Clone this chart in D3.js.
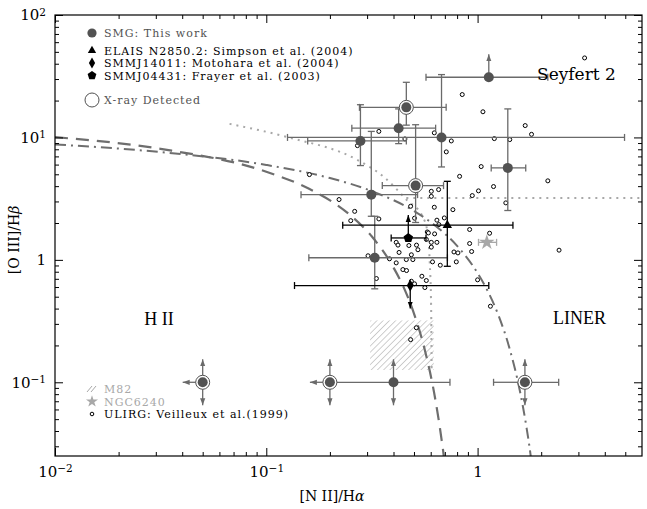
<!DOCTYPE html>
<html>
<head>
<meta charset="utf-8">
<script src="https://cdn.jsdelivr.net/npm/d3@7"></script>
<style>
  body { margin: 0; background: #fff; }
  svg { display: block; font-family: "DejaVu Serif", serif; }
</style>
</head>
<body>
<svg></svg>
<script>
// BPT diagram: [O III]/Hb vs [N II]/Ha

// SMGs from this work (dark grey). ylim/xlim mark limits drawn as arrows
let smgPoints = [
  {x: 1.13, y: 31, xlo: 0.57, xhi: 2.15, ylim: "up"},
  {x: 0.46, y: 17.6, xlo: 0.276, xhi: 0.71, ylo: 12.6, yhi: 28.2, xray: true},
  {x: 0.423, y: 11.9, xlo: 0.254, xhi: 0.633, ylo: 8.9, yhi: 17.1},
  {x: 0.279, y: 9.36, xlo: 0.157, xhi: 0.46, ylo: 5.89, yhi: 18.5},
  {x: 0.675, y: 10.0, xlo: 0.126, xhi: 4.96, ylo: 5.74, yhi: 32.6},
  {x: 1.39, y: 5.64, xlo: 1.16, xhi: 1.69, ylo: 2.53, yhi: 17.1},
  {x: 0.509, y: 4.04, xlo: 0.354, xhi: 0.69, ylo: 2.02, yhi: 12.7, xray: true},
  {x: 0.314, y: 3.41, xlo: 0.146, xhi: 0.52, ylo: 2.27, yhi: 11.2},
  {x: 0.326, y: 1.04, xlo: 0.159, xhi: 0.72, ylo: 0.58, yhi: 2.27},
  {x: 0.05, y: 0.1, xlim: "left", ylim: "both", xray: true},
  {x: 0.2, y: 0.1, xlim: "left", ylim: "both", xray: true},
  {x: 0.40, y: 0.1, xlo: 0.2, xhi: 0.74, ylim: "both"},
  {x: 1.675, y: 0.1, xlo: 1.19, xhi: 2.42, ylim: "both", xray: true}
]

// other SMGs from the literature (black)
let elaisPoint = {x: 0.719, y: 1.92, xlo: 0.23, xhi: 1.47, ylo: 0.886, yhi: 4.38}
let smmj04431Point = {x: 0.47, y: 1.51, xlo: 0.39, xhi: 0.57, ylim: "up"}
let smmj14011Point = {x: 0.48, y: 0.617, xlo: 0.136, xhi: 1.13, ylim: "down"}

// NGC6240 and the M82 region
let ngc6240Point = {x: 1.106, y: 1.39, xlo: 1.01, xhi: 1.23}
let m82Box = {xlo: 0.31, xhi: 0.62, ylo: 0.126, yhi: 0.32}

// ULIRGs, Veilleux et al. (1999)
let ulirgPoints = [
  [0.846, 22.4], [1.06, 16.2], [1.68, 12.5], [1.80, 10.6], [0.341, 11.2], [0.624, 10.9],
  [0.453, 9.72], [0.751, 9.36], [1.20, 9.78], [1.42, 9.60], [0.270, 8.57], [0.711, 7.62],
  [1.04, 5.78], [2.15, 4.42], [0.160, 4.97], [0.822, 4.81], [1.19, 3.97], [1.01, 3.66],
  [0.944, 3.35], [0.604, 3.63], [0.654, 3.75], [0.604, 3.30], [1.36, 2.92], [0.221, 3.11],
  [0.262, 2.49], [0.251, 2.09], [0.482, 2.74], [0.624, 2.69], [0.764, 2.57], [0.341, 2.16],
  [0.503, 2.19], [0.642, 2.11], [0.696, 2.20], [0.656, 1.94], [0.917, 1.77], [1.14, 1.65],
  [0.578, 1.69], [0.585, 1.66], [0.626, 1.63], [0.412, 1.39], [0.420, 1.32], [0.572, 1.47],
  [0.604, 1.39], [0.642, 1.39], [0.473, 1.31], [0.514, 1.32], [0.522, 1.21], [0.604, 1.27],
  [0.917, 1.36], [0.937, 1.17], [2.43, 1.20], [0.425, 1.15], [0.486, 1.10], [0.303, 1.08],
  [0.383, 1.02], [0.460, 1.005], [0.494, 1.005], [0.412, 0.945], [0.612, 0.963], [0.666, 0.904],
  [0.773, 1.16], [0.793, 0.963], [0.807, 1.14], [0.443, 0.833], [0.461, 0.818], [0.332, 0.704],
  [0.545, 0.735], [0.572, 0.678], [0.486, 0.669], [0.503, 0.637], [0.563, 0.594], [1.00, 0.687],
  [1.15, 0.418], [0.513, 0.279], [0.482, 0.223], [3.21, 44.6]
]

// classification curves, values
let kewleyCurve = [
  [0.01, 8.77], [0.0316, 7.59], [0.1, 5.96], [0.2, 4.66], [0.316, 3.64], [0.501, 2.50],
  [0.631, 1.90], [0.794, 1.32], [1.0, 0.780], [1.122, 0.547], [1.259, 0.348], [1.413, 0.192],
  [1.585, 0.0853], [1.698, 0.0445], [1.782, 0.0254], [1.80, 0.022]
]
let kauffmannCurve = [
  [0.01, 10.05], [0.0316, 8.06], [0.1, 5.24], [0.1585, 3.82], [0.251, 2.30], [0.316, 1.55],
  [0.398, 0.879], [0.447, 0.596], [0.501, 0.361], [0.562, 0.185], [0.631, 0.0724],
  [0.676, 0.0337], [0.692, 0.0248], [0.70, 0.02]
]
let dottedCurve = [
  [0.067, 12.9], [0.129, 9.96], [0.268, 6.59], [0.363, 4.70], [0.461, 3.10], [0.549, 2.26],
  [0.580, 1.67], [0.593, 1.0], [0.603, 0.393], [0.606, 0.127]
]
let dottedLine = [[0.46, 3.2], [6, 3.2]]

// axis ticks
let xMajorTicks = [0.01, 0.1, 1]
let xMinorTicks = [0.02, 0.03, 0.04, 0.05, 0.06, 0.07, 0.08, 0.09,
                   0.2, 0.3, 0.4, 0.5, 0.6, 0.7, 0.8, 0.9, 2, 3, 4, 5]
let yMajorTicks = [0.1, 1, 10, 100]
let yMinorTicks = [0.03, 0.04, 0.05, 0.06, 0.07, 0.08, 0.09, 0.2, 0.3, 0.4, 0.5, 0.6, 0.7, 0.8, 0.9,
                   2, 3, 4, 5, 6, 7, 8, 9, 20, 30, 40, 50, 60, 70, 80, 90]

let width = 647
let height = 509
let plotLeft = 55, plotRight = 642, plotTop = 15, plotBottom = 456

let grey = "#525252"
let barGrey = "#6a6a6a"
let lightGrey = "#a8a8a8"

let svg = d3.select("svg").attr("width", width).attr("height", height)
let xScale, yScale

let generateScales = () => {
  xScale = d3.scaleLog().domain([0.01, 6]).range([plotLeft, plotRight])
  yScale = d3.scaleLog().domain([0.025, 100]).range([plotBottom, plotTop])
}

let powerLabel = function (d) {
  let t = d3.select(this)
  t.text(null)
  if (d === 1) { t.text("1"); return }
  let e = Math.round(Math.log10(d))
  t.append("tspan").text("10")
  t.append("tspan").attr("dy", "-0.45em").attr("font-size", "10.5px")
   .text(e < 0 ? "\u2212" + (-e) : e)
}

let generateAxes = () => {
  let styleAxis = g => {
    g.select(".domain").remove()
    g.selectAll("line").attr("stroke", "#000").attr("stroke-width", 1)
  }
  let add = (axis, tx, ty, labels) => {
    let g = svg.append("g").attr("transform", "translate(" + tx + "," + ty + ")")
               .call(axis).call(styleAxis)
    g.selectAll("text").attr("font-family", "DejaVu Serif").attr("font-size", "15px").attr("fill", "#000")
    if (labels) g.selectAll(".tick text").each(powerLabel)
    else g.selectAll(".tick text").remove()
    return g
  }
  // bottom / top
  add(d3.axisBottom(xScale).tickValues(xMajorTicks).tickSizeInner(-8).tickSizeOuter(0).tickPadding(10), 0, plotBottom, true)
  add(d3.axisBottom(xScale).tickValues(xMinorTicks).tickSizeInner(-4).tickSizeOuter(0), 0, plotBottom, false)
  add(d3.axisTop(xScale).tickValues(xMajorTicks).tickSizeInner(-8).tickSizeOuter(0), 0, plotTop, false)
  add(d3.axisTop(xScale).tickValues(xMinorTicks).tickSizeInner(-4).tickSizeOuter(0), 0, plotTop, false)
  // left / right
  add(d3.axisLeft(yScale).tickValues(yMajorTicks).tickSizeInner(-8).tickSizeOuter(0).tickPadding(9), plotLeft, 0, true)
  add(d3.axisLeft(yScale).tickValues(yMinorTicks).tickSizeInner(-4).tickSizeOuter(0), plotLeft, 0, false)
  add(d3.axisRight(yScale).tickValues(yMajorTicks).tickSizeInner(-8).tickSizeOuter(0), plotRight, 0, false)
  add(d3.axisRight(yScale).tickValues(yMinorTicks).tickSizeInner(-4).tickSizeOuter(0), plotRight, 0, false)

  svg.append("rect")
     .attr("x", plotLeft).attr("y", plotTop)
     .attr("width", plotRight - plotLeft).attr("height", plotBottom - plotTop)
     .attr("fill", "none").attr("stroke", "#000").attr("stroke-width", 1.2)

  let xt = svg.append("text").attr("x", 332).attr("y", 501).attr("text-anchor", "middle")
              .attr("font-size", "14px")
  xt.append("tspan").text("[N II]/H")
  xt.append("tspan").attr("font-style", "italic").text("\u03b1")

  let yt = svg.append("text").attr("transform", "translate(19,240) rotate(-90)")
              .attr("text-anchor", "middle").attr("font-size", "14px")
  yt.append("tspan").text("[O III]/H")
  yt.append("tspan").attr("font-style", "italic").text("\u03b2")
}

let defineMarkers = () => {
  let defs = svg.append("defs")
  ;[["arrow-grey", barGrey], ["arrow-black", "#000"]].forEach(([id, c]) => {
    defs.append("marker").attr("id", id)
        .attr("viewBox", "0 -4 8 8").attr("refX", 7).attr("refY", 0)
        .attr("markerUnits", "userSpaceOnUse").attr("markerWidth", 8).attr("markerHeight", 8)
        .attr("orient", "auto")
        .append("path").attr("d", "M0,-2.6L7,0L0,2.6Z").attr("fill", c)
  })
  defs.append("pattern").attr("id", "hatch")
      .attr("patternUnits", "userSpaceOnUse").attr("width", 4.4).attr("height", 4.4)
      .attr("patternTransform", "rotate(45)")
      .append("line").attr("x1", 0).attr("y1", 0).attr("x2", 0).attr("y2", 4.4)
      .attr("stroke", lightGrey).attr("stroke-width", 1.1)
  defs.append("clipPath").attr("id", "plot-clip")
      .append("rect").attr("x", plotLeft).attr("y", plotTop)
      .attr("width", plotRight - plotLeft).attr("height", plotBottom - plotTop)
}

let drawCurves = () => {
  let g = svg.append("g").attr("clip-path", "url(#plot-clip)")
  let line = d3.line().x(d => xScale(d[0])).y(d => yScale(d[1])).curve(d3.curveMonotoneX)

  // M82 hatched box
  g.append("rect")
   .attr("x", xScale(m82Box.xlo)).attr("y", yScale(m82Box.yhi))
   .attr("width", xScale(m82Box.xhi) - xScale(m82Box.xlo))
   .attr("height", yScale(m82Box.ylo) - yScale(m82Box.yhi))
   .attr("fill", "url(#hatch)")

  g.append("path").attr("d", line(dottedCurve)).attr("fill", "none")
   .attr("stroke", lightGrey).attr("stroke-width", 2).attr("stroke-dasharray", "2,5")
  g.append("path").attr("d", line(dottedLine)).attr("fill", "none")
   .attr("stroke", lightGrey).attr("stroke-width", 2).attr("stroke-dasharray", "2,5")
  g.append("path").attr("d", line(kauffmannCurve)).attr("fill", "none")
   .attr("stroke", "#6e6e6e").attr("stroke-width", 2.2).attr("stroke-dasharray", "13,8")
  g.append("path").attr("d", line(kewleyCurve)).attr("fill", "none")
   .attr("stroke", "#6e6e6e").attr("stroke-width", 2).attr("stroke-dasharray", "11,5,2,5")
}

let cap = 3.5
let arrowLen = 23

let drawErrors = (g, d, color, arrowId) => {
  let cx = xScale(d.x), cy = yScale(d.y)
  let seg = (x1, y1, x2, y2, arrow) => {
    let l = g.append("line").attr("x1", x1).attr("y1", y1).attr("x2", x2).attr("y2", y2)
             .attr("stroke", color).attr("stroke-width", 1.3)
    if (arrow) l.attr("marker-end", "url(#" + arrowId + ")")
  }
  if (d.xlo) { let x = xScale(d.xlo); seg(cx, cy, x, cy); seg(x, cy - cap, x, cy + cap) }
  if (d.xhi) { let x = xScale(d.xhi); seg(cx, cy, x, cy); seg(x, cy - cap, x, cy + cap) }
  if (d.ylo) { let y = yScale(d.ylo); seg(cx, cy, cx, y); seg(cx - cap, y, cx + cap, y) }
  if (d.yhi) { let y = yScale(d.yhi); seg(cx, cy, cx, y); seg(cx - cap, y, cx + cap, y) }
  if (d.xlim === "left") seg(cx, cy, cx - arrowLen + 3, cy, true)
  if (d.ylim === "up" || d.ylim === "both") seg(cx, cy, cx, cy - arrowLen, true)
  if (d.ylim === "down" || d.ylim === "both") seg(cx, cy, cx, cy + arrowLen, true)
}

let pentagon = r => "M" + d3.range(5).map(k => {
  let a = -Math.PI / 2 + k * 2 * Math.PI / 5
  return [r * Math.cos(a), r * Math.sin(a)]
}).join("L") + "Z"

let drawPoints = () => {
  let g = svg.append("g")

  // ULIRGs
  g.selectAll(".ulirg").data(ulirgPoints).enter().append("circle")
   .attr("class", "ulirg")
   .attr("cx", d => xScale(d[0])).attr("cy", d => yScale(d[1])).attr("r", 2)
   .attr("fill", "#fff").attr("stroke", "#000").attr("stroke-width", 1)

  // error bars first, markers on top
  smgPoints.forEach(d => drawErrors(g, d, barGrey, "arrow-grey"))
  ;[elaisPoint, smmj04431Point, smmj14011Point].forEach(d => drawErrors(g, d, "#000", "arrow-black"))
  drawErrors(g, ngc6240Point, lightGrey, "arrow-grey")

  smgPoints.forEach(d => {
    let cx = xScale(d.x), cy = yScale(d.y)
    if (d.xray) g.append("circle").attr("cx", cx).attr("cy", cy).attr("r", 7)
                 .attr("fill", "#fff").attr("stroke", grey).attr("stroke-width", 1)
    g.append("circle").attr("cx", cx).attr("cy", cy).attr("r", 5).attr("fill", grey)
  })

  g.append("path").attr("d", d3.symbol(d3.symbolTriangle, 38)())
   .attr("transform", "translate(" + xScale(elaisPoint.x) + "," + yScale(elaisPoint.y) + ")")
  g.append("path").attr("d", pentagon(5))
   .attr("transform", "translate(" + xScale(smmj04431Point.x) + "," + yScale(smmj04431Point.y) + ")")
  g.append("path").attr("d", d3.symbol(d3.symbolDiamond, 42)())
   .attr("transform", "translate(" + xScale(smmj14011Point.x) + "," + yScale(smmj14011Point.y) + ")")
  g.append("path").attr("d", d3.symbol(d3.symbolStar, 75)()).attr("fill", lightGrey)
   .attr("transform", "translate(" + xScale(ngc6240Point.x) + "," + yScale(ngc6240Point.y) + ")")
}

let drawLegend = () => {
  let g = svg.append("g").attr("font-size", "11px").attr("letter-spacing", "1px")
  let mx = 92, tx = 104
  let row = (y, label, color) => g.append("text").attr("x", tx).attr("y", y + 4).attr("fill", color).text(label)

  g.append("circle").attr("cx", mx).attr("cy", 33).attr("r", 4.6).attr("fill", grey)
  row(33, "SMG: This work", grey)
  g.append("path").attr("d", d3.symbol(d3.symbolTriangle, 30)()).attr("transform", "translate(" + mx + ",50.5)")
  row(50.5, "ELAIS N2850.2: Simpson et al. (2004)", "#000")
  g.append("path").attr("d", d3.symbol(d3.symbolDiamond, 34)()).attr("transform", "translate(" + mx + ",63)")
  row(63, "SMMJ14011: Motohara et al. (2004)", "#000")
  g.append("path").attr("d", pentagon(4.6)).attr("transform", "translate(" + mx + ",75.5)")
  row(75.5, "SMMJ04431: Frayer et al. (2003)", "#000")
  g.append("circle").attr("cx", mx).attr("cy", 100).attr("r", 7).attr("fill", "none")
   .attr("stroke", grey).attr("stroke-width", 1)
  row(100, "X-ray Detected", grey)

  // lower legend
  ;[0, 4].forEach(o => g.append("line")
    .attr("x1", mx - 5 + o).attr("y1", 392).attr("x2", mx + o).attr("y2", 386)
    .attr("stroke", lightGrey).attr("stroke-width", 1))
  row(389, "M82", lightGrey)
  g.append("path").attr("d", d3.symbol(d3.symbolStar, 45)()).attr("fill", lightGrey)
   .attr("transform", "translate(" + mx + ",401.5)")
  row(401.5, "NGC6240", lightGrey)
  g.append("circle").attr("cx", mx).attr("cy", 414).attr("r", 1.8)
   .attr("fill", "#fff").attr("stroke", "#000").attr("stroke-width", 1)
  row(414, "ULIRG: Veilleux et al.(1999)", "#000")

  // region names
  svg.append("text").attr("x", 537).attr("y", 80).attr("font-size", "17px").text("Seyfert 2")
  svg.append("text").attr("x", 159).attr("y", 325).attr("text-anchor", "middle")
     .attr("font-family", "Liberation Serif").attr("font-size", "18px").text("H II")
  svg.append("text").attr("x", 553).attr("y", 324).attr("font-family", "Liberation Serif")
     .attr("font-size", "18px").text("LINER")
}

generateScales()
defineMarkers()
drawCurves()
drawPoints()
generateAxes()
drawLegend()
</script>
</body>
</html>
